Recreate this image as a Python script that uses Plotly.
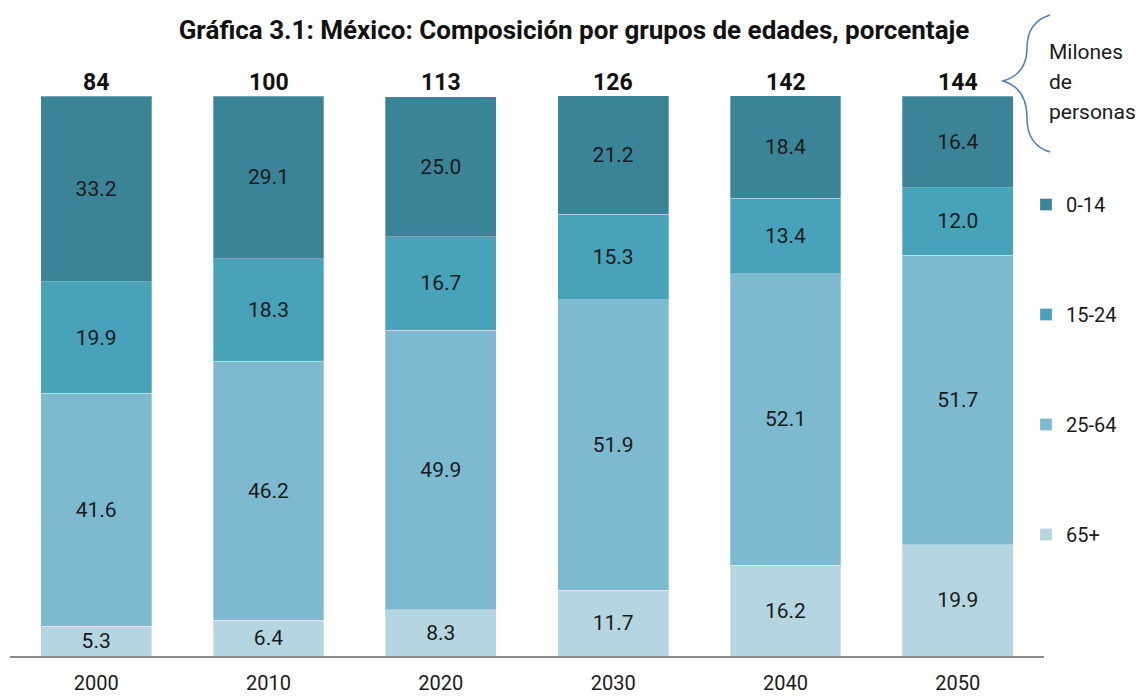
import plotly.graph_objects as go

# Age-group composition of Mexico's population (percent of total)
years = ["2000", "2010", "2020", "2030", "2040", "2050"]
totals_millions = [84, 100, 113, 126, 142, 144]
age_65_plus = [5.3, 6.4, 8.3, 11.7, 16.2, 19.9]
age_25_64 = [41.6, 46.2, 49.9, 51.9, 52.1, 51.7]
age_15_24 = [19.9, 18.3, 16.7, 15.3, 13.4, 12.0]
age_0_14 = [33.2, 29.1, 25.0, 21.2, 18.4, 16.4]
unit_note = ["Milones", "de", "personas"]

W, H = 1141, 697
L, R, T, B = 10, 1044, 96, 656  # plot area in pixels

def px(x):
    return (x - L) / (R - L)

def py(y):
    return (B - y) / (B - T)

series = [
    ("65+", age_65_plus, "#B5D5E0", 4),
    ("25-64", age_25_64, "#7DB9CF", 3),
    ("15-24", age_15_24, "#47A2BA", 2),
    ("0-14", age_0_14, "#3B8497", 1),
]

label_font = "Roboto, Arial, sans-serif"
bold_font = "Roboto, Arial, sans-serif"

fig = go.Figure()
for name, vals, color, rank in series:
    fig.add_trace(go.Bar(
        x=years, y=vals, name=name,
        marker=dict(color=color, line=dict(color="rgba(255,255,255,0.3)", width=1)),
        text=[f"{v:.1f}" for v in vals],
        textposition="inside", insidetextanchor="middle",
        textfont=dict(family=label_font, size=21, color="#1a1a1a"),
        legendrank=rank, legendgroup=name,
        hoverinfo="skip",
    ))

# Totals in millions above each bar (category index positions)
for i, tot in enumerate(totals_millions):
    fig.add_annotation(
        x=i, y=100, xref="x", yref="y", text=f"<b>{tot}</b>",
        showarrow=False, yanchor="bottom", yshift=-2,
        font=dict(family=bold_font, size=23, color="#111"),
    )

# Curly brace with unit note
bx = [(1050, 15), (1027, 22), (1027, 48), (1027, 74), (1003, 81),
      (1027, 88), (1027, 118), (1027, 145), (1050, 152)]
p = [(px(x), py(y)) for x, y in bx]
path = (f"M {p[0][0]},{p[0][1]} Q {p[1][0]},{p[1][1]} {p[2][0]},{p[2][1]} "
        f"Q {p[3][0]},{p[3][1]} {p[4][0]},{p[4][1]} "
        f"Q {p[5][0]},{p[5][1]} {p[6][0]},{p[6][1]} "
        f"Q {p[7][0]},{p[7][1]} {p[8][0]},{p[8][1]}")
fig.add_shape(type="path", path=path, xref="paper", yref="paper",
              line=dict(color="#4F7FC0", width=1.5))
for k, line in enumerate(unit_note):
    fig.add_annotation(
        x=px(1047), y=py(52 + 30 * k), xref="paper", yref="paper",
        text=line, showarrow=False, align="left",
        xanchor="left", yanchor="middle",
        font=dict(family=label_font, size=21, color="#1a1a1a"),
    )

fig.update_layout(
    width=W, height=H,
    margin=dict(l=L, r=W - R, t=T, b=H - B, pad=0),
    paper_bgcolor="white", plot_bgcolor="white",
    barmode="stack", bargap=0.356,
    uniformtext=dict(minsize=21, mode="show"),
    title=dict(
        text="<b>Gráfica 3.1: México: Composición por grupos de edades, porcentaje</b>",
        x=574 / W, xref="container", xanchor="center",
        y=1 - 30 / H, yref="container", yanchor="middle",
        font=dict(family=bold_font, size=26, color="#111"),
    ),
    xaxis=dict(
        type="category", range=[-0.5, len(years) - 0.5], automargin=False,
        showgrid=False, ticks="", showline=True, linecolor="#8c8c8c", linewidth=2,
        tickfont=dict(family=label_font, size=20, color="#1a1a1a"),
        ticklabelstandoff=8,
    ),
    yaxis=dict(range=[0, 100], visible=False, showgrid=False, automargin=False),
    legend=dict(
        x=px(1026), xanchor="left", y=py(185), yanchor="top",
        xref="paper", yref="paper",
        traceorder="grouped", tracegroupgap=81,
        font=dict(family=label_font, size=20, color="#1a1a1a"),
        bgcolor="rgba(0,0,0,0)", itemwidth=30,
    ),
    showlegend=True,
)

fig.write_html("out.html")
